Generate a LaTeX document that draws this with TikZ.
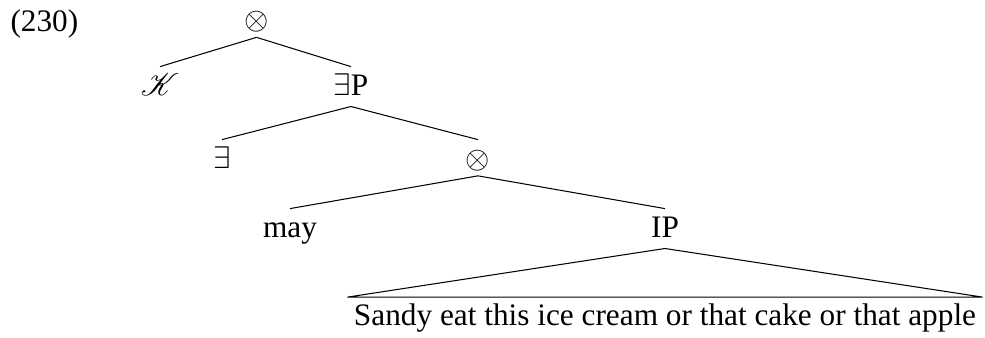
\documentclass[tikz,border=0pt]{standalone}
\usepackage{fontspec}
\setmainfont{Liberation Serif}
\usepackage{mathrsfs}
\tikzset{
  cat/.style={inner sep=0pt, anchor=base, text height=10.7pt, text depth=4.2pt},
  op/.style={cat, text depth=2.8pt},
}
\begin{document}
\begin{tikzpicture}[line width=0.4pt, font=\fontsize{12}{14}\selectfont]
  \useasboundingbox (0,0) rectangle (13.278,-4.543);
  \node[anchor=base west, inner sep=0pt] (num) at (0.135,-0.425) {(230)};
  \node[op] (top) at (3.458,-0.398) {$\otimes$};
  \node[cat] (K) at (2.157,-1.281) {$\mathscr{K}$};
  \node[cat] (EP) at (4.731,-1.281) {$\exists$P};
  \node[cat] (E) at (2.993,-2.265) {$\exists$};
  \node[op] (mid) at (6.443,-2.265) {$\otimes$};
  \node[cat] (may) at (3.909,-3.195) {may};
  \node[cat] (IP) at (8.964,-3.195) {IP};
  \node[cat, inner xsep=2.3pt] (leaf) at (8.964,-4.388) {Sandy eat this ice cream or that cake or that apple};
  \draw (top.south) -- (K.north);
  \draw (top.south) -- (EP.north);
  \draw (EP.south) -- (E.north);
  \draw (EP.south) -- (mid.north);
  \draw (mid.south) -- (may.north);
  \draw (mid.south) -- (IP.north);
  \draw (IP.south) -- (leaf.north west) -- (leaf.north east) -- cycle;
\end{tikzpicture}
\end{document}
